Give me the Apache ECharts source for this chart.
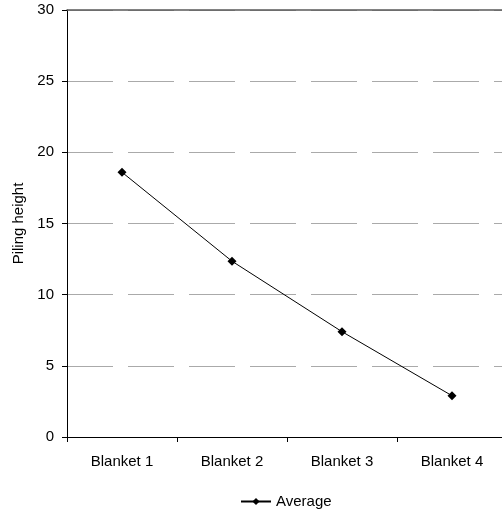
<!DOCTYPE html>
<html>
<head>
<meta charset="utf-8">
<script src="https://cdn.jsdelivr.net/npm/echarts@6/dist/echarts.min.js"></script>
<style>html,body{margin:0;padding:0;background:#fff;overflow:hidden;}#c{width:507px;height:514px;}</style>
</head>
<body>
<div id="c"></div>
<script>
var categories = ['Blanket 1', 'Blanket 2', 'Blanket 3', 'Blanket 4'];
var averageValues = [18.6, 12.35, 7.4, 2.9];
var seriesName = 'Average';
var yAxisTitle = 'Piling height';

var chart = echarts.init(document.getElementById('c'), null, {renderer: 'canvas'});
var font = 'Liberation Sans, Arial, sans-serif';
chart.setOption({
  animation: false,
  backgroundColor: '#fff',
  grid: {left: 67, top: 10, height: 427, width: 440, containLabel: false},
  legend: {
    data: [seriesName],
    top: 489,
    left: 235,
    itemWidth: 30,
    itemHeight: 9,
    itemGap: 5,
    textStyle: {fontFamily: font, fontSize: 15, color: '#000'}
  },
  xAxis: [{
    type: 'category',
    data: categories,
    boundaryGap: true,
    axisLine: {show: true, lineStyle: {color: '#000', width: 1}},
    axisTick: {show: true, length: 5, alignWithLabel: false, lineStyle: {color: '#000'}},
    axisLabel: {fontFamily: font, fontSize: 15, color: '#000', margin: 17},
    splitLine: {show: false}
  }, {
    type: 'category',
    position: 'top',
    data: categories,
    axisLine: {show: true, lineStyle: {color: '#5a5a5a', width: 1.5}},
    axisTick: {show: false},
    axisLabel: {show: false},
    splitLine: {show: false}
  }],
  yAxis: {
    type: 'value',
    min: 0, max: 30, interval: 5,
    name: yAxisTitle,
    nameLocation: 'middle',
    nameGap: 38,
    nameTextStyle: {fontFamily: font, fontSize: 15, color: '#000'},
    axisLine: {show: true, lineStyle: {color: '#000', width: 1}},
    axisTick: {show: true, length: 5, inside: false, lineStyle: {color: '#000'}},
    axisLabel: {fontFamily: font, fontSize: 15, color: '#000', margin: 13},
    splitLine: {show: true, lineStyle: {color: '#aaaaaa', width: 1, type: [46, 15]}}
  },
  series: [{
    name: seriesName,
    type: 'line',
    data: averageValues,
    symbol: 'diamond',
    symbolSize: 9,
    lineStyle: {color: '#000', width: 1},
    itemStyle: {color: '#000'}
  }]
});
</script>
</body>
</html>
